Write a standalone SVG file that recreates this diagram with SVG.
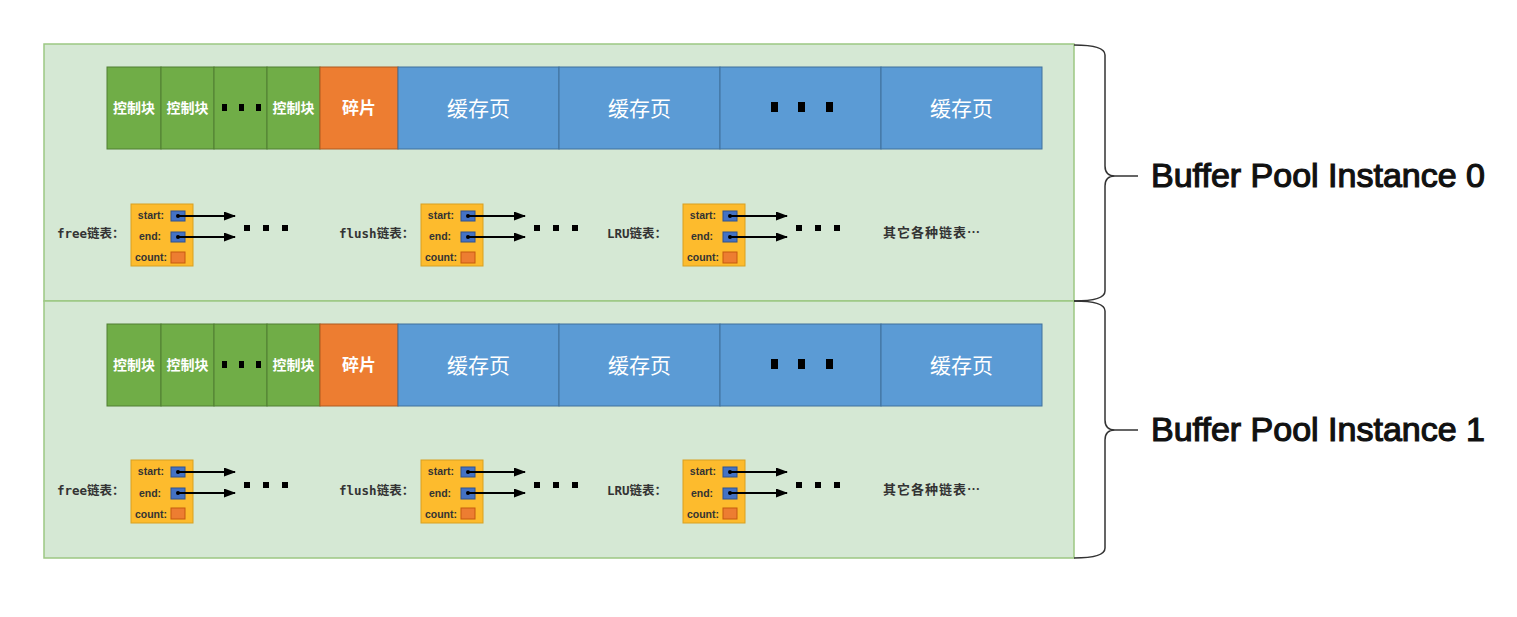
<svg xmlns="http://www.w3.org/2000/svg" width="1517" height="617" viewBox="0 0 1517 617">
<style>
.outer{fill:#d5e8d4;stroke:#9cc783;stroke-width:1.5}
.g{fill:#70ad47;stroke:#507e32;stroke-width:1}
.o{fill:#ed7d31;stroke:#ae5a21;stroke-width:1}
.b{fill:#5b9bd5;stroke:#41719c;stroke-width:1}
.dot{fill:#000}
.ct{font-family:"Noto Sans CJK SC","Noto Sans",sans-serif;font-weight:bold;font-size:14px;fill:#fff;text-anchor:middle}
.st{font-family:"Noto Sans CJK SC","Noto Sans",sans-serif;font-weight:bold;font-size:17px;fill:#fff;text-anchor:middle}
.bt{font-family:"Noto Sans CJK SC","Noto Sans",sans-serif;font-size:21px;fill:#fff;text-anchor:middle}
.lb{fill:#fdbb2d;stroke:#d9a020;stroke-width:1}
.sq{fill:#4472c4;stroke:#2f528f;stroke-width:1}
.cq{fill:#ed7d31;stroke:#c55a11;stroke-width:1}
.lt{font-family:"Liberation Sans",Arial,sans-serif;font-weight:bold;font-size:10.5px;fill:#333;text-anchor:middle}
.ln{font-family:"DejaVu Sans Mono","Noto Sans CJK SC",monospace;font-weight:bold;font-size:12.5px;fill:#333}
.ot{font-family:"Noto Sans CJK SC",sans-serif;font-weight:bold;font-size:13px;fill:#333;letter-spacing:1px}
.arr{stroke:#000;stroke-width:2;fill:none;marker-end:url(#ah)}
.brace{fill:none;stroke:#333;stroke-width:1.5}
.title{font-family:"Liberation Sans",Arial,sans-serif;font-size:34px;fill:#111;stroke:#111;stroke-width:1.2}
</style>
<defs>
<marker id="ah" viewBox="0 0 12 9" refX="11" refY="4.5" markerWidth="6" markerHeight="4.5" orient="auto" markerUnits="strokeWidth">
<path d="M0,0 L12,4.5 L0,9 Z" fill="#000"/>
</marker>
</defs>

<g id="instance0">
<rect id="pool0" class="outer" x="44" y="44" width="1030" height="257"/>
<g id="row0">
<rect class="g" x="107" y="67" width="54" height="82"/>
<rect class="g" x="161" y="67" width="53" height="82"/>
<rect class="g" x="214" y="67" width="53" height="82"/>
<rect class="g" x="267" y="67" width="53" height="82"/>
<rect class="o" x="320" y="67" width="78" height="82"/>
<rect class="b" x="398" y="67" width="161" height="82"/>
<rect class="b" x="559" y="67" width="161" height="82"/>
<rect class="b" x="720" y="67" width="161" height="82"/>
<rect class="b" x="881" y="67" width="161" height="82"/>
<text class="ct" x="134" y="113">控制块</text>
<text class="ct" x="187.5" y="113">控制块</text>
<rect class="dot" x="222" y="104" width="5" height="7"/>
<rect class="dot" x="239" y="104" width="5" height="7"/>
<rect class="dot" x="256" y="104" width="5" height="7"/>
<text class="ct" x="293.5" y="113">控制块</text>
<text class="st" x="359" y="114">碎片</text>
<text class="bt" x="478.5" y="116">缓存页</text>
<text class="bt" x="639.5" y="116">缓存页</text>
<rect class="dot" x="771" y="102" width="7" height="10"/>
<rect class="dot" x="798" y="102" width="7" height="10"/>
<rect class="dot" x="826" y="102" width="7" height="10"/>
<text class="bt" x="961.5" y="116">缓存页</text>
</g>
<g id="free0">
<text class="ln" x="57" y="238">free链表：</text>
<rect class="lb" x="131" y="204" width="62" height="62"/>
<text class="lt" x="151" y="219">start:</text>
<text class="lt" x="150" y="240">end:</text>
<text class="lt" x="151" y="261">count:</text>
<rect class="sq" x="171" y="211" width="14" height="10"/>
<rect class="sq" x="171" y="232" width="14" height="10"/>
<rect class="cq" x="171" y="252" width="14" height="11"/>
<rect class="dot" x="244" y="225" width="6" height="6"/>
<rect class="dot" x="263" y="225" width="6" height="6"/>
<rect class="dot" x="282" y="225" width="6" height="6"/>
</g>
<g id="flush0">
<text class="ln" x="339" y="238">flush链表：</text>
<rect class="lb" x="421" y="204" width="62" height="62"/>
<text class="lt" x="441" y="219">start:</text>
<text class="lt" x="440" y="240">end:</text>
<text class="lt" x="441" y="261">count:</text>
<rect class="sq" x="461" y="211" width="14" height="10"/>
<rect class="sq" x="461" y="232" width="14" height="10"/>
<rect class="cq" x="461" y="252" width="14" height="11"/>
<rect class="dot" x="534" y="225" width="6" height="6"/>
<rect class="dot" x="553" y="225" width="6" height="6"/>
<rect class="dot" x="572" y="225" width="6" height="6"/>
</g>
<g id="lru0">
<text class="ln" x="607" y="238">LRU链表：</text>
<rect class="lb" x="683" y="204" width="62" height="62"/>
<text class="lt" x="703" y="219">start:</text>
<text class="lt" x="702" y="240">end:</text>
<text class="lt" x="703" y="261">count:</text>
<rect class="sq" x="723" y="211" width="14" height="10"/>
<rect class="sq" x="723" y="232" width="14" height="10"/>
<rect class="cq" x="723" y="252" width="14" height="11"/>
<rect class="dot" x="796" y="225" width="6" height="6"/>
<rect class="dot" x="815" y="225" width="6" height="6"/>
<rect class="dot" x="834" y="225" width="6" height="6"/>
</g>
<g id="other0">
<text class="ot" x="883" y="237">其它各种链表…</text>
</g>
</g>

<g id="instance1">
<rect id="pool1" class="outer" x="44" y="301" width="1030" height="257"/>
<g id="row1">
<rect class="g" x="107" y="324" width="54" height="82"/>
<rect class="g" x="161" y="324" width="53" height="82"/>
<rect class="g" x="214" y="324" width="53" height="82"/>
<rect class="g" x="267" y="324" width="53" height="82"/>
<rect class="o" x="320" y="324" width="78" height="82"/>
<rect class="b" x="398" y="324" width="161" height="82"/>
<rect class="b" x="559" y="324" width="161" height="82"/>
<rect class="b" x="720" y="324" width="161" height="82"/>
<rect class="b" x="881" y="324" width="161" height="82"/>
<text class="ct" x="134" y="370">控制块</text>
<text class="ct" x="187.5" y="370">控制块</text>
<rect class="dot" x="222" y="361" width="5" height="7"/>
<rect class="dot" x="239" y="361" width="5" height="7"/>
<rect class="dot" x="256" y="361" width="5" height="7"/>
<text class="ct" x="293.5" y="370">控制块</text>
<text class="st" x="359" y="371">碎片</text>
<text class="bt" x="478.5" y="373">缓存页</text>
<text class="bt" x="639.5" y="373">缓存页</text>
<rect class="dot" x="771" y="359" width="7" height="10"/>
<rect class="dot" x="798" y="359" width="7" height="10"/>
<rect class="dot" x="826" y="359" width="7" height="10"/>
<text class="bt" x="961.5" y="373">缓存页</text>
</g>
<g id="free1">
<text class="ln" x="57" y="495">free链表：</text>
<rect class="lb" x="131" y="460" width="62" height="63"/>
<text class="lt" x="151" y="475">start:</text>
<text class="lt" x="150" y="497">end:</text>
<text class="lt" x="151" y="518">count:</text>
<rect class="sq" x="171" y="467" width="14" height="10"/>
<rect class="sq" x="171" y="488" width="14" height="11"/>
<rect class="cq" x="171" y="508" width="14" height="11"/>
<rect class="dot" x="244" y="482" width="6" height="6"/>
<rect class="dot" x="263" y="482" width="6" height="6"/>
<rect class="dot" x="282" y="482" width="6" height="6"/>
</g>
<g id="flush1">
<text class="ln" x="339" y="495">flush链表：</text>
<rect class="lb" x="421" y="460" width="62" height="63"/>
<text class="lt" x="441" y="475">start:</text>
<text class="lt" x="440" y="497">end:</text>
<text class="lt" x="441" y="518">count:</text>
<rect class="sq" x="461" y="467" width="14" height="10"/>
<rect class="sq" x="461" y="488" width="14" height="11"/>
<rect class="cq" x="461" y="508" width="14" height="11"/>
<rect class="dot" x="534" y="482" width="6" height="6"/>
<rect class="dot" x="553" y="482" width="6" height="6"/>
<rect class="dot" x="572" y="482" width="6" height="6"/>
</g>
<g id="lru1">
<text class="ln" x="607" y="495">LRU链表：</text>
<rect class="lb" x="683" y="460" width="62" height="63"/>
<text class="lt" x="703" y="475">start:</text>
<text class="lt" x="702" y="497">end:</text>
<text class="lt" x="703" y="518">count:</text>
<rect class="sq" x="723" y="467" width="14" height="10"/>
<rect class="sq" x="723" y="488" width="14" height="11"/>
<rect class="cq" x="723" y="508" width="14" height="11"/>
<rect class="dot" x="796" y="482" width="6" height="6"/>
<rect class="dot" x="815" y="482" width="6" height="6"/>
<rect class="dot" x="834" y="482" width="6" height="6"/>
</g>
<g id="other1">
<text class="ot" x="883" y="494">其它各种链表…</text>
</g>
</g>

<g id="labels">
<path class="brace" d="M1074,45 Q1105,45 1105,55 L1105,166 Q1105,176 1115,176 L1138,176 M1115,176 Q1105,176 1105,186 L1105,291 Q1105,301 1074,301"/>
<text class="title" x="1151" y="187" textLength="334" lengthAdjust="spacingAndGlyphs">Buffer Pool Instance 0</text>
<path class="brace" d="M1074,301 Q1105,301 1105,311 L1105,420 Q1105,430 1115,430 L1138,430 M1115,430 Q1105,430 1105,440 L1105,548 Q1105,558 1074,558"/>
<text class="title" x="1151" y="441" textLength="334" lengthAdjust="spacingAndGlyphs">Buffer Pool Instance 1</text>
</g>

<g id="connectors">
<circle cx="178" cy="216" r="2" fill="#000"/>
<path class="arr" d="M178,216 L235,216"/>
<circle cx="178" cy="237" r="2" fill="#000"/>
<path class="arr" d="M178,237 L235,237"/>
<circle cx="468" cy="216" r="2" fill="#000"/>
<path class="arr" d="M468,216 L525,216"/>
<circle cx="468" cy="237" r="2" fill="#000"/>
<path class="arr" d="M468,237 L525,237"/>
<circle cx="730" cy="216" r="2" fill="#000"/>
<path class="arr" d="M730,216 L787,216"/>
<circle cx="730" cy="237" r="2" fill="#000"/>
<path class="arr" d="M730,237 L787,237"/>
<circle cx="178" cy="472" r="2" fill="#000"/>
<path class="arr" d="M178,472 L235,472"/>
<circle cx="178" cy="493" r="2" fill="#000"/>
<path class="arr" d="M178,493 L235,493"/>
<circle cx="468" cy="472" r="2" fill="#000"/>
<path class="arr" d="M468,472 L525,472"/>
<circle cx="468" cy="493" r="2" fill="#000"/>
<path class="arr" d="M468,493 L525,493"/>
<circle cx="730" cy="472" r="2" fill="#000"/>
<path class="arr" d="M730,472 L787,472"/>
<circle cx="730" cy="493" r="2" fill="#000"/>
<path class="arr" d="M730,493 L787,493"/>
</g>
</svg>
